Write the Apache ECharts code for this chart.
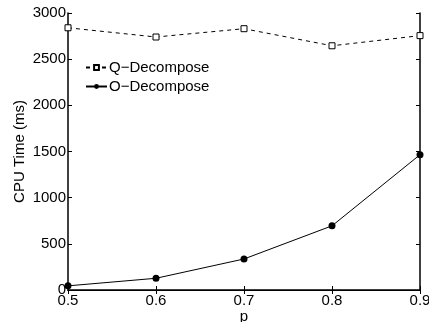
<!DOCTYPE html>
<html>
<head>
<meta charset="utf-8">
<script src="https://cdn.jsdelivr.net/npm/echarts@6/dist/echarts.min.js"></script>
<style>
  html, body { margin: 0; padding: 0; background: #fff; }
  #chart { width: 429px; height: 322px; }
</style>
</head>
<body>
<div id="chart"></div>
<script>
// p values on the x axis
const pValues = [0.5, 0.6, 0.7, 0.8, 0.9]
// CPU time (ms) per method
const qDecompose = [2840, 2740, 2830, 2645, 2755]
const oDecompose = [45, 127, 336, 695, 1465]

const FONT = 'Liberation Sans, Arial, sans-serif'

const chart = echarts.init(document.getElementById('chart'))

// inward ticks on every side, MATLAB box style
const boxAxis = {
  axisLine: { show: true, lineStyle: { color: '#000', width: 1.5 } },
  axisTick: { show: true, inside: true, length: 4, lineStyle: { color: '#000' } },
  splitLine: { show: false },
}

chart.setOption({
  animation: false,
  grid: { left: 68, right: 9, top: 13, bottom: 32, outerBoundsMode: 'none' },
  textStyle: { fontFamily: FONT },
  legend: {
    orient: 'vertical',
    left: 85,
    top: 60,
    padding: 0,
    itemWidth: 21,
    itemHeight: 6,
    itemGap: 4,
    textStyle: { fontSize: 15, color: '#000', fontFamily: FONT, padding: [0, 0, 0, -3] },
    data: ['Q\u2212Decompose', 'O\u2212Decompose'],
  },
  xAxis: [
    {
      type: 'value', min: 0.5, max: 0.9, interval: 0.1,
      name: 'p', nameLocation: 'middle', nameGap: 19, nameMoveOverlap: false,
      nameTextStyle: { fontSize: 15, color: '#000' },
      axisLabel: { fontSize: 15, color: '#000', margin: 3, formatter: (v) => v.toFixed(1) },
      ...boxAxis,
    },
    {
      type: 'value', min: 0.5, max: 0.9, interval: 0.1, position: 'top',
      axisLabel: { show: false },
      ...boxAxis,
      axisLine: { show: true, lineStyle: { color: '#000', width: 1 } },
    },
  ],
  yAxis: [
    {
      type: 'value', min: 0, max: 3000, interval: 500,
      name: 'CPU Time (ms)', nameLocation: 'middle', nameGap: 41, nameMoveOverlap: false,
      nameTextStyle: { fontSize: 15, color: '#000' },
      axisLabel: { fontSize: 15, color: '#000', margin: 2, formatter: (v) => String(v) },
      ...boxAxis,
    },
    {
      type: 'value', min: 0, max: 3000, interval: 500, position: 'right',
      axisLabel: { show: false },
      ...boxAxis,
    },
  ],
  series: [
    {
      name: 'Q\u2212Decompose',
      type: 'line',
      data: pValues.map((p, i) => [p, qDecompose[i]]),
      symbol: 'rect',
      symbolSize: 6,
      lineStyle: { color: '#000', width: 1, type: [4, 4] },
      itemStyle: { color: '#fff', borderColor: '#000', borderWidth: 1 },
    },
    {
      name: 'O\u2212Decompose',
      type: 'line',
      data: pValues.map((p, i) => [p, oDecompose[i]]),
      symbol: 'circle',
      symbolSize: 7,
      lineStyle: { color: '#000', width: 1 },
      itemStyle: { color: '#000' },
    },
  ],
})
</script>
</body>
</html>
